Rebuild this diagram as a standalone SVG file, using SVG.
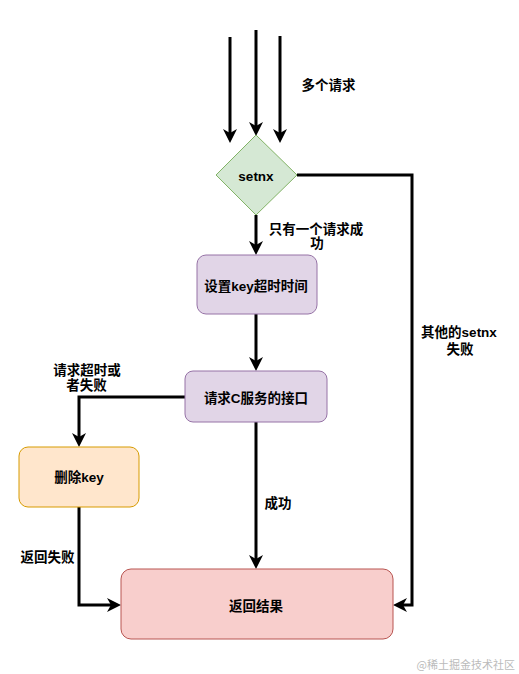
<svg xmlns="http://www.w3.org/2000/svg" width="519" height="674" viewBox="0 0 519 674">
<defs>
<style>
.t{font-family:"Liberation Sans","Noto Sans CJK SC",sans-serif;font-size:13.5px;font-weight:bold;fill:#000;text-anchor:middle}
.e{fill:none;stroke:#000;stroke-width:3}
</style>
<marker id="ah" markerUnits="userSpaceOnUse" markerWidth="16" markerHeight="16" refX="4" refY="7" orient="auto" viewBox="0 0 16 14">
<path d="M0,0 L14,7 L0,14 L4,7 Z" fill="#000"/>
</marker>
</defs>
<rect width="519" height="674" fill="#fff"/>
<g id="connectors">
<path class="e" d="M230,37 V133" marker-end="url(#ah)"/>
<path class="e" d="M256,30 V126" marker-end="url(#ah)"/>
<path class="e" d="M280,36 V133" marker-end="url(#ah)"/>
<path class="e" d="M297,175 H412 V605 H403" marker-end="url(#ah)"/>
<path class="e" d="M256,215 V245" marker-end="url(#ah)"/>
<path class="e" d="M256,314 V361" marker-end="url(#ah)"/>
<path class="e" d="M185,397 H79 V437" marker-end="url(#ah)"/>
<path class="e" d="M79,507 V605 H111" marker-end="url(#ah)"/>
<path class="e" d="M256,422 V559" marker-end="url(#ah)"/>
<text class="t" x="328.5" y="90">多个请求</text>
<text class="t" x="316" y="234">只有一个请求成</text>
<text class="t" x="317" y="248">功</text>
<text class="t" x="459" y="337">其他的setnx</text>
<text class="t" x="460" y="354">失败</text>
<text class="t" x="87" y="375">请求超时或</text>
<text class="t" x="86.5" y="390">者失败</text>
<text class="t" x="47.5" y="562">返回失败</text>
<text class="t" x="278" y="508">成功</text>
</g>
<g id="setnx">
<path d="M256,135 L297,175 L256,215 L216,175 Z" fill="#d5e8d4" stroke="#82b366"/>
<text class="t" x="256" y="181">setnx</text>
</g>
<g id="setkey">
<rect x="197" y="255" width="120" height="59" rx="9" fill="#e1d5e7" stroke="#9673a6"/>
<text class="t" x="256" y="291">设置key超时时间</text>
</g>
<g id="callc">
<rect x="185" y="371" width="142" height="51" rx="8" fill="#e1d5e7" stroke="#9673a6"/>
<text class="t" x="256" y="403">请求C服务的接口</text>
</g>
<g id="delkey">
<rect x="19" y="447" width="120" height="60" rx="9" fill="#ffe6cc" stroke="#d79b00"/>
<text class="t" x="79" y="482">删除key</text>
</g>
<g id="result">
<rect x="121" y="569" width="272" height="70" rx="10" fill="#f8cecc" stroke="#b85450"/>
<text class="t" x="256" y="611">返回结果</text>
</g>
<text x="515" y="669" style="font-family:'Noto Sans CJK SC',sans-serif;font-size:11px;fill:#bbb;text-anchor:end">@稀土掘金技术社区</text>
</svg>
